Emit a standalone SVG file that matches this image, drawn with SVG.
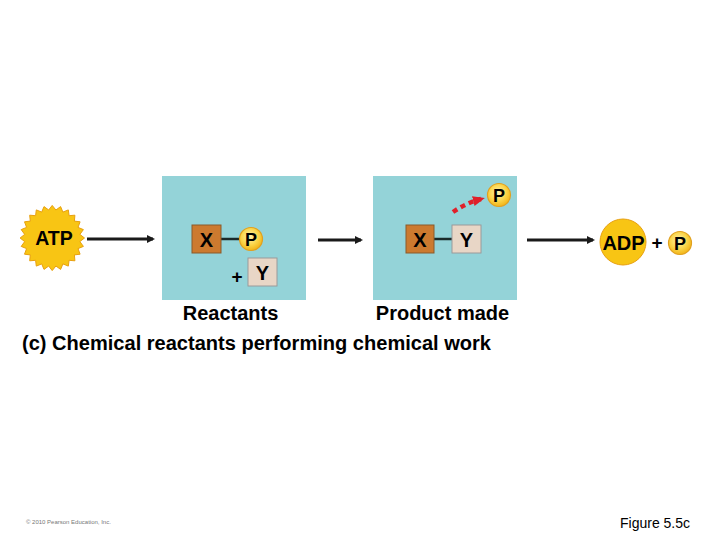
<svg xmlns="http://www.w3.org/2000/svg" width="720" height="540" viewBox="0 0 720 540">
<style>
.panel{fill:#94d3d8}
.xbox{fill:#cc7a2f;stroke:#8a5a2a;stroke-width:1}
.ybox{fill:#e8d6c6;stroke:#9a9a9a;stroke-width:1}
.pc{fill:url(#pg);stroke:#e0a020;stroke-width:1.2}
.lbl{font-family:"Liberation Sans",Arial,sans-serif;font-weight:bold;fill:#000}
.arrow{stroke:#1a1a1a;stroke-width:3;fill:none}
.bond{stroke:#1a2a2a;stroke-width:2.5}
</style>
<defs>
<radialGradient id="pg" cx="0.45" cy="0.4" r="0.6">
<stop offset="0" stop-color="#fff3b0"/>
<stop offset="0.6" stop-color="#fad54a"/>
<stop offset="1" stop-color="#f2b518"/>
</radialGradient>
<marker id="ah" markerWidth="8" markerHeight="8" refX="6" refY="4" orient="auto" markerUnits="userSpaceOnUse" viewBox="0 0 8 8">
<path d="M0,0 L8,4 L0,8 Z" fill="#1a1a1a"/>
</marker>
<marker id="rh" markerWidth="12" markerHeight="10" refX="8" refY="5" orient="auto" markerUnits="userSpaceOnUse" viewBox="0 0 12 10">
<path d="M0,0 L12,5 L0,10 Z" fill="#e0202a"/>
</marker>
</defs>
<rect width="720" height="540" fill="#fff"/>
<g id="panel-reactants">
<rect class="panel" x="162" y="176" width="144" height="124"/>
</g>
<g id="panel-product">
<rect class="panel" x="373" y="176" width="144" height="124"/>
</g>
<g id="connectors">
<line class="arrow" x1="87" y1="239" x2="153" y2="239" marker-end="url(#ah)"/>
<line class="arrow" x1="318" y1="240" x2="361" y2="240" marker-end="url(#ah)"/>
<line class="arrow" x1="527" y1="240" x2="593" y2="240" marker-end="url(#ah)"/>
<line class="bond" x1="221" y1="239" x2="240" y2="239"/>
<line class="bond" x1="434" y1="239" x2="452" y2="239"/>
<path d="M453,212 Q466,203 481,199" fill="none" stroke="#e0202a" stroke-width="4.5" stroke-dasharray="5,4" marker-end="url(#rh)"/>
</g>
<g id="atp">
<polygon transform="translate(7.5,0)" fill="#f8c514" stroke="#e8a010" stroke-width="1" points="77.0,238.0 72.4,241.6 75.9,246.4 70.5,248.6 72.6,254.2 66.9,254.9 67.4,260.8 61.6,260.3 60.8,266.1 55.4,263.9 53.1,269.4 48.4,266.0 44.7,270.6 41.2,266.0 36.5,269.4 34.2,263.9 28.8,266.1 28.1,260.3 22.2,260.8 22.8,254.9 17.0,254.2 19.1,248.6 13.7,246.4 17.2,241.6 12.6,238.0 17.2,234.4 13.7,229.6 19.1,227.4 17.0,221.8 22.8,221.1 22.2,215.2 28.1,215.7 28.8,209.9 34.2,212.1 36.5,206.6 41.2,210.0 44.7,205.4 48.4,210.0 53.1,206.6 55.4,212.1 60.8,209.9 61.6,215.7 67.4,215.2 66.9,221.1 72.6,221.8 70.5,227.4 75.9,229.6 72.4,234.4"/>
<text class="lbl" x="54" y="245" font-size="19.5" text-anchor="middle">ATP</text>
</g>
<g id="x1">
<rect class="xbox" x="192" y="225" width="29" height="28"/>
<text class="lbl" x="206.5" y="246.5" font-size="20" text-anchor="middle">X</text>
</g>
<g id="p1">
<circle class="pc" cx="251" cy="239" r="11.5"/>
<text class="lbl" x="251" y="245.5" font-size="18" text-anchor="middle">P</text>
</g>
<g id="plus1">
<text class="lbl" x="237" y="283" font-size="19" text-anchor="middle">+</text>
</g>
<g id="y1">
<rect class="ybox" x="248" y="258" width="29" height="28"/>
<text class="lbl" x="262.5" y="279.5" font-size="20" text-anchor="middle">Y</text>
</g>
<g id="x2">
<rect class="xbox" x="406" y="225" width="28" height="28"/>
<text class="lbl" x="420" y="246.5" font-size="20" text-anchor="middle">X</text>
</g>
<g id="y2">
<rect class="ybox" x="452" y="225" width="29" height="28"/>
<text class="lbl" x="466.5" y="246.5" font-size="20" text-anchor="middle">Y</text>
</g>
<g id="p2">
<circle class="pc" cx="499" cy="195" r="11.5"/>
<text class="lbl" x="499" y="201.5" font-size="18" text-anchor="middle">P</text>
</g>
<g id="adp">
<circle cx="623" cy="242" r="23" fill="#f8c514" stroke="#e8a010" stroke-width="1"/>
<text class="lbl" x="623.5" y="249.5" font-size="20" text-anchor="middle">ADP</text>
</g>
<g id="plus2">
<text class="lbl" x="657" y="249" font-size="19" text-anchor="middle">+</text>
</g>
<g id="p3">
<circle class="pc" cx="680" cy="243" r="11.5"/>
<text class="lbl" x="680" y="249.5" font-size="18" text-anchor="middle">P</text>
</g>
<g id="labels">
<text class="lbl" x="230.5" y="319.5" font-size="20" text-anchor="middle">Reactants</text>
<text class="lbl" x="442.5" y="319.5" font-size="20" text-anchor="middle">Product made</text>
<text class="lbl" x="22" y="349.5" font-size="20" textLength="469" lengthAdjust="spacingAndGlyphs">(c) Chemical reactants performing chemical work</text>
<text x="26" y="524" font-family="Liberation Sans,Arial,sans-serif" font-size="6" fill="#777">© 2010 Pearson Education, Inc.</text>
<text x="620" y="528" font-family="Liberation Sans,Arial,sans-serif" font-size="14" fill="#000">Figure 5.5c</text>
</g>
</svg>
